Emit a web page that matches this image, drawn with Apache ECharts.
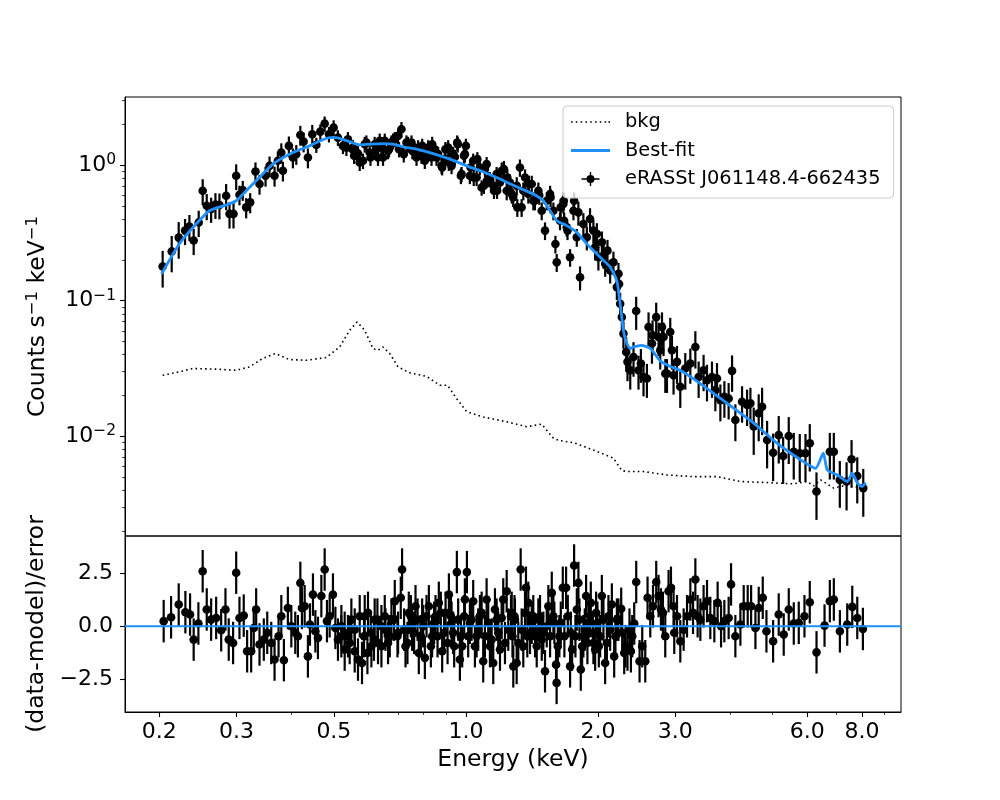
<!DOCTYPE html>
<html>
<head>
<meta charset="utf-8">
<script src="https://cdn.jsdelivr.net/npm/echarts@6/dist/echarts.min.js"></script>
<style>html,body{margin:0;padding:0;background:#fff}#chart{width:1000px;height:800px}</style>
</head>
<body>
<div id="chart"></div>
<script>
// ---- data (energy keV, counts s^-1 keV^-1, 1-sigma error) ----
const sourcePoints = [
[0.2035,0.179,0.054],[0.2134,0.231,0.069],[0.2214,0.292,0.088],[0.2289,0.329,0.072],[0.2342,0.352,0.077],
[0.2395,0.278,0.061],[0.2459,0.378,0.083],[0.2511,0.647,0.14],[0.2565,0.502,0.11],[0.2625,0.475,0.10],
[0.2685,0.511,0.11],[0.2742,0.508,0.11],[0.284,0.595,0.13],[0.2891,0.437,0.096],[0.2952,0.437,0.096],
[0.2994,0.834,0.18],[0.3046,0.605,0.10],[0.3099,0.655,0.11],[0.3155,0.488,0.083],[0.3222,0.531,0.09],
[0.3313,0.897,0.15],[0.3384,0.725,0.12],[0.3493,0.834,0.14],[0.3567,0.988,0.17],[0.3662,0.834,0.14],
[0.3726,1.076,0.18],[0.3794,1.238,0.21],[0.3826,0.908,0.15],[0.3948,1.386,0.24],[0.4032,1.137,0.19],
[0.4105,1.205,0.2],[0.4193,1.67,0.28],[0.4266,1.491,0.25],[0.4363,1.137,0.19],[0.4464,1.69,0.29],
[0.456,1.41,0.18],[0.4657,1.766,0.23],[0.4764,2.023,0.26],[0.4873,1.69,0.22],[0.4994,1.89,0.25],
[0.5107,1.596,0.21],[0.5244,1.386,0.18],[0.534,1.347,0.18],[0.5383,1.553,0.2],[0.5509,1.311,0.17],
[0.5528,1.347,0.18],[0.556,1.171,0.15],[0.5646,1.17,0.15],[0.5675,1.22,0.16],[0.5727,1.045,0.14],
[0.5826,1.076,0.14],[0.5879,1.427,0.19],[0.5931,1.466,0.19],[0.6034,1.238,0.16],[0.606,1.137,0.15],
[0.6194,1.427,0.19],[0.622,1.274,0.17],[0.6303,1.137,0.15],[0.636,1.509,0.2],[0.6416,1.347,0.18],
[0.6472,1.137,0.15],[0.6531,1.509,0.2],[0.6645,1.274,0.17],[0.668,1.311,0.17],[0.6765,1.466,0.19],
[0.6822,1.509,0.2],[0.6884,1.553,0.2],[0.7004,1.642,0.21],[0.704,1.311,0.17],[0.713,1.84,0.24],
[0.7217,1.205,0.16],[0.732,1.466,0.19],[0.7382,1.427,0.19],[0.7516,1.466,0.19],[0.755,1.274,0.17],
[0.7647,1.274,0.17],[0.7716,1.137,0.15],[0.7782,1.347,0.18],[0.7923,1.171,0.15],[0.795,1.386,0.18],
[0.806,1.076,0.14],[0.8133,1.238,0.16],[0.8203,1.347,0.18],[0.8349,1.137,0.15],[0.838,1.427,0.19],
[0.8495,1.311,0.17],[0.8571,1.137,0.15],[0.8644,1.205,0.16],[0.88,0.988,0.13],[0.883,0.96,0.12],
[0.8954,1.107,0.14],[0.898,1.311,0.17],[0.9112,1.347,0.18],[0.914,1.045,0.14],[0.9276,0.988,0.13],
[0.9354,1.205,0.16],[0.9438,1.15,0.15],[0.9553,1.466,0.19],[0.958,1.427,0.19],[0.974,0.834,0.11],
[0.9776,0.859,0.11],[0.99,1.171,0.15],[0.9947,1.205,0.16],[1.0,1.386,0.18],[1.021,0.834,0.11],
[1.025,0.96,0.12],[1.039,1.076,0.14],[1.042,0.811,0.11],[1.058,0.811,0.11],[1.062,1.107,0.14],
[1.076,0.96,0.12],[1.086,0.684,0.089],[1.099,0.705,0.092],[1.105,0.934,0.12],[1.115,1.017,0.13],
[1.124,0.789,0.1],[1.134,0.789,0.1],[1.155,0.705,0.092],[1.159,0.647,0.084],[1.175,0.859,0.11],
[1.178,0.647,0.084],[1.196,0.745,0.097],[1.207,0.908,0.14],[1.221,0.934,0.14],[1.239,0.647,0.097],
[1.243,0.811,0.12],[1.26,0.745,0.11],[1.272,0.612,0.092],[1.282,0.578,0.087],[1.306,0.705,0.11],
[1.31,0.488,0.073],[1.328,0.96,0.14],[1.34,0.488,0.073],[1.352,0.647,0.097],[1.364,0.811,0.12],
[1.388,0.612,0.092],[1.392,0.725,0.11],[1.413,0.725,0.11],[1.425,0.546,0.082],[1.437,0.546,0.082],
[1.463,0.647,0.097],[1.47,0.60,0.09],[1.489,0.461,0.069],[1.515,0.329,0.049],[1.529,0.546,0.082],
[1.556,0.612,0.092],[1.56,0.578,0.087],[1.583,0.461,0.069],[1.6,0.262,0.039],[1.611,0.192,0.029],
[1.639,0.389,0.058],[1.645,0.488,0.073],[1.668,0.517,0.078],[1.672,0.546,0.082],[1.675,0.389,0.058],
[1.698,0.348,0.052],[1.705,0.329,0.049],[1.728,0.209,0.031],[1.759,0.461,0.069],[1.765,0.546,0.082],
[1.79,0.294,0.044],[1.805,0.448,0.09],[1.821,0.149,0.03],[1.853,0.368,0.074],[1.887,0.294,0.059],
[1.919,0.401,0.08],[1.953,0.329,0.066],[1.971,0.248,0.05],[1.989,0.311,0.062],[2.005,0.209,0.042],
[2.042,0.27,0.054],[2.06,0.215,0.043],[2.078,0.187,0.037],[2.103,0.234,0.047],[2.133,0.167,0.033],
[2.17,0.192,0.038],[2.209,0.126,0.025],[2.228,0.158,0.032],[2.235,0.133,0.027],[2.248,0.095,0.019],
[2.268,0.0757,0.015],[2.287,0.0572,0.013],[2.32,0.0419,0.012],[2.336,0.0354,0.0099],[2.37,0.0307,0.0086],
[2.411,0.0385,0.011],[2.445,0.0839,0.023],[2.475,0.0307,0.0086],[2.506,0.0344,0.0096],[2.541,0.0274,0.0077],
[2.587,0.0267,0.0075],[2.609,0.064,0.018],[2.656,0.0483,0.014],[2.665,0.0556,0.016],[2.716,0.0757,0.021],
[2.75,0.054,0.015],[2.774,0.0431,0.012],[2.8,0.064,0.018],[2.823,0.054,0.015],[2.849,0.029,0.0081],
[2.874,0.029,0.0081],[2.924,0.0588,0.016],[2.95,0.0431,0.012],[2.975,0.0282,0.0079],[3.029,0.0354,0.011],
[3.082,0.0232,0.007],[3.164,0.0316,0.0095],[3.249,0.0344,0.01],[3.336,0.0456,0.014],[3.394,0.0274,0.0082],
[3.483,0.0307,0.0092],[3.546,0.0259,0.0078],[3.64,0.0274,0.0082],[3.705,0.0219,0.0066],[3.737,0.0267,0.008],
[3.804,0.0185,0.0056],[3.885,0.0196,0.0059],[3.973,0.019,0.0057],[4.045,0.0304,0.0091],[4.116,0.0132,0.004],
[4.263,0.018,0.0054],[4.377,0.017,0.0051],[4.454,0.0175,0.0053],[4.532,0.0118,0.0045],[4.652,0.0148,0.0056],
[4.736,0.0165,0.0063],[4.862,0.0094,0.0036],[5.018,0.00757,0.0029],[5.168,0.0102,0.0039],[5.289,0.00716,0.0027],
[5.447,0.01005,0.0038],[5.592,0.0077,0.0029],[5.771,0.0075,0.0029],[5.947,0.0075,0.0029],[6.083,0.0089,0.0034],
[6.301,0.00392,0.0015],[6.758,0.0077,0.0029],[6.901,0.0077,0.0029],[7.122,0.00477,0.0018],[7.379,0.00464,0.0018],
[7.575,0.00678,0.0026],[7.805,0.0051,0.0019],[8.055,0.00415,0.0016]
];

// best-fit model (energy keV, counts s^-1 keV^-1)
const modelCurve = [
[0.2024,0.158],[0.2222,0.263],[0.2426,0.368],[0.2602,0.461],[0.284,0.508],[0.2994,0.546],[0.3155,0.647],
[0.3324,0.767],[0.363,1.017],[0.396,1.205],[0.44,1.387],[0.489,1.596],[0.506,1.596],[0.543,1.49],
[0.5727,1.41],[0.6034,1.427],[0.6472,1.441],[0.6822,1.427],[0.7192,1.364],[0.7716,1.311],[0.8419,1.217],
[0.9194,1.107],[1.0037,0.988],[1.0952,0.893],[1.196,0.789],[1.3055,0.692],[1.4246,0.612],[1.5017,0.546],
[1.556,0.461],[1.611,0.389],[1.698,0.358],[1.79,0.319],[1.887,0.2625],[1.919,0.248],[2.024,0.209],
[2.133,0.177],[2.209,0.14],[2.248,0.095],[2.287,0.06],[2.329,0.0483],[2.37,0.0444],[2.411,0.0456],
[2.51,0.0469],[2.633,0.0445],[2.774,0.036],[2.924,0.0327],[3.08,0.0307],[3.424,0.0245],[3.94,0.0175],
[4.53,0.0125],[5.12,0.0089],[5.8,0.0067],[6.27,0.0058],[6.53,0.0075],[6.67,0.00565],[7.03,0.00519],
[7.41,0.00464],[7.6,0.00535],[7.81,0.00451],[8.01,0.00426],[8.15,0.00456]
];

// background spectrum (energy keV, counts s^-1 keV^-1)
const backgroundCurve = [
[0.2035,0.0282],[0.2222,0.0299],[0.238,0.0316],[0.2694,0.0313],[0.2994,0.0307],[0.321,0.0325],[0.344,0.0375],
[0.368,0.0408],[0.396,0.0368],[0.4326,0.0364],[0.4806,0.0381],[0.5156,0.0456],[0.543,0.0605],[0.565,0.0696],
[0.588,0.0605],[0.614,0.0444],[0.63,0.0431],[0.647,0.0456],[0.6705,0.0408],[0.7004,0.0325],[0.7447,0.0294],
[0.813,0.0277],[0.872,0.0238],[0.908,0.0238],[0.952,0.019],[1.004,0.0152],[1.095,0.0139],[1.239,0.0128],
[1.376,0.01177],[1.489,0.0123],[1.583,0.00967],[1.639,0.00929],[1.758,0.00897],[1.82,0.00863],[2.024,0.00757],
[2.17,0.00689],[2.21,0.00632],[2.268,0.00559],[2.329,0.0055],[2.54,0.0055],[2.874,0.00519],[3.3,0.00504],
[3.74,0.00504],[4.23,0.00464],[4.86,0.00456],[5.59,0.00446],[6.0,0.00464],[6.21,0.00431],[6.44,0.00477],
[6.9,0.00415],[7.41,0.00438],[7.67,0.00421],[8.08,0.00431]
];

// residuals (energy keV, (data-model)/error); every residual bar is +/-1
const residualPoints = [
[0.2046,0.24],[0.2127,0.42],[0.2214,1.02],[0.2293,0.66],[0.235,0.55],[0.2395,-0.63],[0.2455,0.13],[0.2511,2.59],
[0.2565,0.79],[0.2625,0.31],[0.2695,0.39],[0.2767,-0.19],[0.283,0.79],[0.2879,-0.63],[0.2946,-0.79],[0.2994,2.52],
[0.3046,0.39],[0.3115,0.5],[0.3171,-1.18],[0.3239,-1.18],[0.3283,-0.08],[0.3325,0.79],[0.3384,-0.86],[0.3461,-0.63],
[0.3524,-0.31],[0.3599,-0.79],[0.3662,-1.57],[0.374,-0.47],[0.3794,0.47],[0.3846,-1.6],[0.3927,0.86],[0.3999,0],
[0.4083,-0.31],[0.4139,-0.47],[0.4193,2.04],[0.4228,0.86],[0.4289,0.94],[0.4363,-1.42],[0.441,0.08],[0.448,1.49],
[0.4537,-0.24],[0.4599,-0.55],[0.4682,1.42],[0.4764,2.67],[0.4822,0.24],[0.4891,0.47],[0.4976,1.49],[0.504,-0.08],
[0.5109,-0.63],[0.5201,0],[0.5292,-1.1],[0.5384,-0.47],[0.5481,0.31],[0.5578,-1.18],[0.5675,-1.57],[0.5796,-1.73],
[0.5879,0.47],[0.5981,0.63],[0.6089,-0.94],[0.6195,0.31],[0.6304,-0.79],[0.6418,0],[0.6531,0.47],[0.6645,-0.79],
[0.6765,0.31],[0.6884,1.18],[0.7005,-0.31],[0.7104,1.34],[0.7153,2.67],[0.7283,-0.94],[0.741,0.63],[0.7539,-0.16],
[0.7676,0.94],[0.781,-1.26],[0.7948,0.31],[0.8062,-1.49],[0.8233,0.94],[0.8375,-0.47],[0.8526,0.47],[0.8675,1.1],
[0.8829,-1.18],[0.8988,0.63],[0.9146,1.49],[0.9276,0.16],[0.9403,-0.94],[0.9537,2.55],[0.9689,-1.57],[0.9807,-0.94],
[0.9947,1.26],[1.0053,2.55],[1.0213,0.16],[1.0391,1.18],[1.0578,-0.47],[1.0764,0.47],[1.0952,-1.65],[1.1149,1.26],
[1.1345,-0.94],[1.1545,-1.73],[1.1752,0.31],[1.196,-1.1],[1.2168,1.26],[1.2388,1.65],[1.2671,0.47],[1.2826,-1.89],
[1.2906,0.47],[1.3055,-1.73],[1.3332,2.67],[1.3517,-0.94],[1.3709,1.81],[1.3877,1.1],[1.4002,-0.31],[1.4246,0.47],
[1.4504,-0.94],[1.4757,0.47],[1.5017,-0.31],[1.515,-2.12],[1.5417,0.94],[1.5697,1.57],[1.5912,0.16],[1.6055,-1.81],
[1.61,-2.67],[1.6335,-0.47],[1.6632,1.81],[1.6922,1.81],[1.7281,-1.89],[1.7465,-1.1],[1.7651,2.86],[1.7904,0.79],
[1.8054,2.04],[1.8281,-2.04],[1.8532,-0.47],[1.8797,1.42],[1.9024,0.16],[1.9266,1.1],[1.9533,-0.79],[1.9812,0.63],
[2.0095,-0.94],[2.0417,1.42],[2.0773,-1.73],[2.1136,0.47],[2.1519,1.02],[2.1782,-1.42],[2.2093,0.31],[2.2601,0.82],
[2.2961,-1.26],[2.3361,-1.1],[2.3784,-1.18],[2.4199,0.13],[2.4456,2.08],[2.4889,-1.65],[2.524,-0.94],[2.5645,-1.65],
[2.5955,1.34],[2.6327,0.47],[2.6706,0.94],[2.7164,2.08],[2.7497,1.42],[2.7847,0.79],[2.8137,0.63],[2.8483,-0.47],
[2.8981,1.65],[2.935,1.81],[2.9752,0.94],[2.9862,-0.31],[3.0294,0.47],[3.0824,-0.71],[3.1368,-0.16],[3.1932,0.47],
[3.2495,1.26],[3.2955,0.63],[3.3359,2.2],[3.3761,0.47],[3.4246,0.31],[3.4834,0.94],[3.5465,1.18],[3.6084,0.39],
[3.6857,0.24],[3.7497,1.1],[3.8177,0],[3.8843,0.24],[3.973,0.39],[4.0236,1.97],[4.1155,-0.47],[4.2257,0.08],
[4.3,0.94],[4.3911,0.94],[4.4707,0.94],[4.5727,-0.08],[4.6525,0.86],[4.752,1.34],[4.845,-0.24],[5.0177,-0.71],
[5.1678,0.55],[5.3054,-0.39],[5.4474,0.79],[5.5924,0.13],[5.7412,0.16],[5.9156,0.47],[6.0827,1.13],[6.3022,-1.23],
[6.5728,0.03],[6.7586,1.18],[6.9018,1.26],[7.1247,-0.24],[7.4048,0.08],[7.603,0.91],[7.8052,0.39],[8.039,-0.13],
[0.520,-0.47],[0.5292,-0.31],[0.5433,-0.79],[0.5578,-0.16],[0.5727,0.47],[0.5857,-0.47],[0.5963,-1.26],[0.6067,-0.31],
[0.6172,-0.63],[0.6284,0.31],[0.6418,-0.94],[0.6555,-0.16],[0.6705,-0.47],[0.6859,0.31],[0.6982,-0.47],[0.7229,-0.16],
[0.7358,-0.79],[0.7489,0.47],[0.762,-0.31],[0.7758,0.31],[0.7893,-0.47],[0.799,0],[0.8133,0.47],[0.832,-0.94],
[0.8464,0.16],[0.8617,-0.47],[0.8767,0.63],[0.8921,-0.31],[0.9083,-0.79],[0.9242,0.47],[0.9354,-0.31],[0.9603,0.31],
[0.9741,-0.47],[0.9911,0.47],[1.0122,-0.47],[1.0304,0.31],[1.0485,-0.94],[1.0668,-0.16],[1.0862,0.63],[1.105,-0.47],
[1.1244,0.16],[1.1448,-0.63],[1.1648,0.79],[1.1852,-0.31],[1.2066,0.39],[1.2278,-0.79],[1.2492,-0.16],[1.2719,0.63],
[1.277,-0.47],[1.2937,0.31],[1.3166,-0.79],[1.3402,-0.16],[1.364,0.63],[1.3805,-0.47],[1.413,0.16],[1.4378,-0.47],
[1.4629,0.31],[1.4893,-0.63],[1.5289,0],[1.556,-0.47],[1.5831,0.47],[1.6201,-0.94],[1.6457,0.16],[1.6771,-0.47],
[1.7076,0.47],[1.7346,-0.31],[1.7773,-0.47],[1.815,0.31],[1.8408,-0.94],[1.8668,-0.16],[1.8928,-0.79],[1.9196,0.47],
[1.9472,-0.31],[1.9711,-1.1],[1.9949,0.16],[2.0236,-0.47],[2.0589,0.31],[2.0962,-0.79],[2.1328,-0.16],[2.1928,-0.47],
[2.2279,0.31],[2.2719,-0.31],[2.312,-0.94],[2.3606,-0.16],[2.3946,-0.47]
];
const residualError = 1;

// axes
const energyRange = [0.167, 9.82];
const rateRange = [0.00184, 3.18];
const residualRange = [-4.04, 4.25];
const energyTicks = [0.2, 0.3, 0.5, 1, 2, 3, 6, 8];
const energyMinorTicks = [0.4, 0.6, 0.7, 0.8, 0.9, 4, 5, 7, 9];
const rateTicks = [0.01, 0.1, 1];
const rateMinorTicks = [0.002,0.003,0.004,0.005,0.006,0.007,0.008,0.009,0.02,0.03,0.04,0.05,0.06,0.07,0.08,0.09,
  0.2,0.3,0.4,0.5,0.6,0.7,0.8,0.9,2,3];
const residualTicks = [-2.5, 0, 2.5];

const FONT = 'DejaVu Sans';
const BLUE = '#1e90ff';
const SRC = 'eRASSt J061148.4-662435';

// legend glyphs
const ICON_DOTTED = 'path://M0,0h1.6v1.6h-1.6zM4.8,0h1.6v1.6h-1.6zM9.6,0h1.6v1.6h-1.6zM14.4,0h1.6v1.6h-1.6zM19.2,0h1.6v1.6h-1.6zM24,0h1.6v1.6h-1.6zM28.8,0h1.6v1.6h-1.6zM33.6,0h1.6v1.6h-1.6zM37.4,0h1.6v1.6h-1.6z';
const ICON_SOLID = 'path://M0,0h39v2.8h-39z';
const ICON_ERR = 'path://M0,6.3h18v1.4h-18zM8.3,0h1.4v14h-1.4zM5,7a4,4,0,1,1,8,0a4,4,0,1,1,-8,0z';

function errorBar(sigmaOf) {
  return function (params, api) {
    const e = api.value(0), v = api.value(1), s = sigmaOf(api);
    const c = api.coord([e, v]);
    const lo = api.coord([e, v - s]);
    const hi = api.coord([e, v + s]);
    return { type: 'group', children: [
      { type: 'line', shape: { x1: c[0], y1: lo[1], x2: c[0], y2: hi[1] }, style: { stroke: '#000', lineWidth: 2.2 } },
      { type: 'circle', shape: { cx: c[0], cy: c[1], r: 4.3 }, style: { fill: '#000' } }
    ]};
  };
}

const tickFont = { fontFamily: FONT, fontSize: 22, color: '#000' };
const majorTick = (vals) => ({ show: true, customValues: vals, length: 5, lineStyle: { color: '#000', width: 1.1 } });
const minorTick = (vals) => ({ show: true, customValues: vals, length: 2.8, lineStyle: { color: '#000', width: 0.8 } });
const supRich = {
  b: { fontFamily: FONT, fontSize: 22, color: '#000', lineHeight: 26 },
  s: { fontFamily: FONT, fontSize: 15.5, color: '#000', lineHeight: 18, verticalAlign: 'top' }
};

const chart = echarts.init(document.getElementById('chart'));
chart.setOption({
  animation: false,
  backgroundColor: '#fff',
  textStyle: { fontFamily: FONT },
  grid: [
    { left: 125, top: 97, width: 776, height: 439, show: true, borderColor: '#000', borderWidth: 1, backgroundColor: 'transparent' },
    { left: 125, top: 536, width: 776, height: 176, show: true, borderColor: '#000', borderWidth: 1, backgroundColor: 'transparent' }
  ],
  xAxis: [
    { type: 'log', gridIndex: 0, position: 'bottom', min: energyRange[0], max: energyRange[1],
      axisLine: { show: false, onZero: false }, axisTick: { show: false }, axisLabel: { show: false }, splitLine: { show: false } },
    { type: 'log', gridIndex: 1, position: 'bottom', min: energyRange[0], max: energyRange[1],
      axisLine: { show: true, onZero: false, lineStyle: { color: '#000', width: 1 } },
      axisTick: majorTick(energyTicks),
      axisLabel: Object.assign({ customValues: energyTicks, margin: 9, formatter: (v) => Number(v).toFixed(1) }, tickFont),
      splitLine: { show: false },
      name: 'Energy (keV)', nameLocation: 'middle', nameGap: 36,
      nameTextStyle: { fontFamily: FONT, fontSize: 23.5, color: '#000' } },
    { type: 'log', gridIndex: 1, position: 'bottom', offset: 0, min: energyRange[0], max: energyRange[1],
      axisLine: { show: false, onZero: false }, axisTick: minorTick(energyMinorTicks), axisLabel: { show: false }, splitLine: { show: false } }
  ],
  yAxis: [
    { type: 'log', gridIndex: 0, position: 'left', min: rateRange[0], max: rateRange[1],
      axisLine: { show: true, onZero: false, lineStyle: { color: '#000', width: 1 } },
      axisTick: majorTick(rateTicks),
      axisLabel: { customValues: rateTicks, margin: 9, rich: supRich,
        formatter: (v) => { const p = Math.round(Math.log10(v)); return '{b|10}{s|' + (p < 0 ? '\u2212' + (-p) : p) + '}'; } },
      splitLine: { show: false },
      name: '{a|Counts s}{s|\u22121}{a| keV}{s|\u22121}', nameLocation: 'middle', nameGap: 73, nameRotate: 90,
      nameTextStyle: { rich: {
        a: { fontFamily: FONT, fontSize: 23.5, color: '#000', lineHeight: 28 },
        s: { fontFamily: FONT, fontSize: 16.5, color: '#000', lineHeight: 20, verticalAlign: 'top' } } } },
    { type: 'log', gridIndex: 0, position: 'left', offset: 0, min: rateRange[0], max: rateRange[1],
      axisLine: { show: false, onZero: false }, axisTick: minorTick(rateMinorTicks), axisLabel: { show: false }, splitLine: { show: false } },
    { type: 'value', gridIndex: 1, position: 'left', min: residualRange[0], max: residualRange[1],
      axisLine: { show: true, onZero: false, lineStyle: { color: '#000', width: 1 } },
      axisTick: majorTick(residualTicks),
      axisLabel: Object.assign({ customValues: residualTicks, margin: 12,
        formatter: (v) => (v < 0 ? '\u2212' : '') + Math.abs(v).toFixed(1) }, tickFont),
      splitLine: { show: false },
      name: '(data-model)/error', nameLocation: 'middle', nameGap: 73, nameRotate: 90,
      nameTextStyle: { fontFamily: FONT, fontSize: 23.5, color: '#000' } }
  ],
  legend: {
    orient: 'vertical', left: 563, top: 106, z: 20,
    data: [
      { name: 'bkg', icon: ICON_DOTTED },
      { name: 'Best-fit', icon: ICON_SOLID },
      { name: SRC, icon: ICON_ERR }
    ],
    itemWidth: 39, itemHeight: 14, itemGap: 6.5,
    padding: [5, 13, 8, 8],
    backgroundColor: 'rgba(255,255,255,0.8)', borderColor: '#cccccc', borderWidth: 1, borderRadius: 4,
    textStyle: { fontFamily: FONT, fontSize: 19.4, color: '#000', lineHeight: 22, padding: [0, 0, 0, 10] },
    selectedMode: false
  },
  series: [
    { name: 'bkg', type: 'line', xAxisIndex: 0, yAxisIndex: 0, data: backgroundCurve, symbol: 'none',
      lineStyle: { color: '#000', width: 1.6, type: [1.6, 3.2] }, itemStyle: { color: '#000' }, z: 2, silent: true },
    { name: SRC, type: 'custom', xAxisIndex: 0, yAxisIndex: 0, data: sourcePoints,
      encode: { x: 0, y: 1 }, renderItem: errorBar((api) => api.value(2)), itemStyle: { color: '#000' }, z: 3, silent: true },
    { name: 'Best-fit', type: 'line', xAxisIndex: 0, yAxisIndex: 0, data: modelCurve, symbol: 'none', smooth: 0.2,
      lineStyle: { color: BLUE, width: 2.8 }, itemStyle: { color: BLUE }, z: 4, silent: true },
    { name: 'residuals', type: 'custom', xAxisIndex: 1, yAxisIndex: 2, data: residualPoints,
      encode: { x: 0, y: 1 }, renderItem: errorBar(() => residualError), itemStyle: { color: '#000' }, z: 3, silent: true },
    { name: 'zero', type: 'line', xAxisIndex: 1, yAxisIndex: 2, data: [[energyRange[0], 0], [energyRange[1], 0]],
      symbol: 'none', lineStyle: { color: BLUE, width: 2.2 }, z: 4, silent: true }
  ]
});
</script>
</body>
</html>
